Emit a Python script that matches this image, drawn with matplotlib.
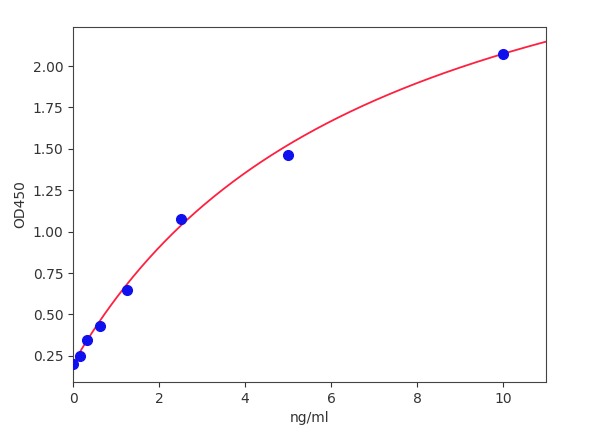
import numpy as np
from matplotlib import pyplot as plt

# standard points
conc = [0, 0.156, 0.3125, 0.625, 1.25, 2.5, 5, 10]
od450 = [0.20, 0.25, 0.345, 0.43, 0.65, 1.075, 1.465, 2.07]

# fitted curve parameters (bottom, top, midpoint, slope)
fit_a, fit_d, fit_c, fit_b = 0.205, 3.41, 7.15, 1.0

xs = np.linspace(0, 11, 300)
ys = fit_d + (fit_a - fit_d) / (1 + (xs / fit_c) ** fit_b)

fig = plt.figure(figsize=(6, 4.45), dpi=100)
ax = fig.add_axes([0.122, 0.142, 0.788, 0.797])

ax.plot(xs, ys, color='#ff2040', lw=1.3, zorder=2)
ax.plot(conc, od450, 'o', color='#1010ee', ms=7, zorder=3)

ax.set_xlim(0, 11)
ax.set_ylim(0.093, 2.235)
ax.set_yticks([0.25, 0.5, 0.75, 1.0, 1.25, 1.5, 1.75, 2.0])
ax.set_xticks([0, 2, 4, 6, 8, 10])
ax.yaxis.set_major_formatter(plt.FormatStrFormatter('%.2f'))
ax.set_xlabel('ng/ml', color='#333333')
ax.set_ylabel('OD450', color='#333333')
ax.tick_params(colors='#333333', labelcolor='#333333')
for s in ax.spines.values():
    s.set_color('#444444')

plt.savefig('out.png')
